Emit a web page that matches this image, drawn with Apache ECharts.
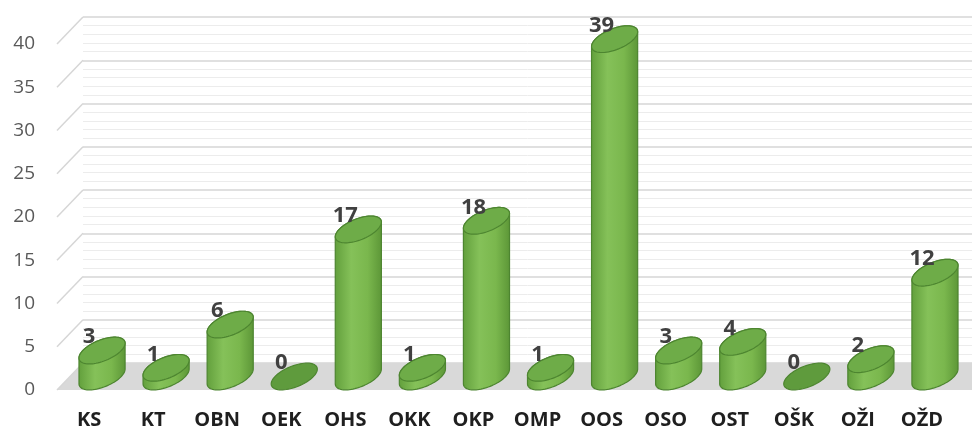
<!DOCTYPE html>
<html><head><meta charset="utf-8">
<script src="https://cdn.jsdelivr.net/npm/echarts@6/dist/echarts.min.js"></script>
<style>html,body{margin:0;padding:0;background:#fff}#c{width:972px;height:430px}</style>
</head><body><div id="c"></div>
<script>
const categories = ['KS','KT','OBN','OEK','OHS','OKK','OKP','OMP','OOS','OSO','OST','OŠK','OŽI','OŽD'];
const values = [3,1,6,0,17,1,18,1,39,3,4,0,2,12];
const yTicks = [0,5,10,15,20,25,30,35,40];

const DX = 26, DY = -27;           // depth offset of back wall
const A = 24.5, B = 10.5, TH = -22 * Math.PI / 180;

function ellipsePts(cx, cy, t1, t2, n) {
  const pts = [];
  const c = Math.cos(TH), s = Math.sin(TH);
  for (let i = 0; i <= n; i++) {
    const t = t1 + (t2 - t1) * i / n;
    const x = A * Math.cos(t), y = B * Math.sin(t);
    pts.push([cx + x * c - y * s, cy + x * s + y * c]);
  }
  return pts;
}
const T0 = Math.atan2(-B * Math.sin(TH), A * Math.cos(TH));

const chart = echarts.init(document.getElementById('c'));
const bodyGrad = new echarts.graphic.LinearGradient(0, 0, 1, 0, [
  {offset: 0, color: '#629f3c'},
  {offset: 0.35, color: '#85c159'},
  {offset: 0.7, color: '#7ab74d'},
  {offset: 1, color: '#5c9637'}
]);

const option = {
  animation: false,
  backgroundColor: '#fff',
  grid: [
    {left: 57, right: 18, top: 44, bottom: 40},
    {left: 57 + DX, right: -10, top: 44 + DY, bottom: 40 - DY}
  ],
  xAxis: [
    {type: 'category', gridIndex: 0, data: categories,
     axisLine: {show: false}, axisTick: {show: false}, splitLine: {show: false},
     axisLabel: {margin: 20, fontFamily: 'Open Sans', fontWeight: 'bold', fontSize: 20, color: '#1f1f1f'}},
    {type: 'category', gridIndex: 1, data: categories, show: false}
  ],
  yAxis: [
    {type: 'value', gridIndex: 0, min: 0, max: 40, interval: 5,
     axisLine: {show: false}, axisTick: {show: false}, splitLine: {show: false},
     axisLabel: {margin: 22, fontFamily: 'Open Sans', fontSize: 19, color: '#595959'}},
    {type: 'value', gridIndex: 1, min: 0, max: 40, interval: 5,
     axisLine: {show: false}, axisTick: {show: false}, axisLabel: {show: false},
     minorTick: {show: false, splitNumber: 5},
     splitLine: {show: true, lineStyle: {color: '#d6d6d6', width: 1.5}},
     minorSplitLine: {show: true, lineStyle: {color: '#ececec', width: 1}}}
  ],
  series: [
    {
      type: 'custom', xAxisIndex: 0, yAxisIndex: 0, z: 2, silent: true,
      data: [[0, 0]],
      renderItem: function (params, api) {
        const p = api.coord([0, 0]);
        const half = api.size([1, 0])[0] / 2;
        const x0 = p[0] - half, y0 = p[1];
        return {type: 'polygon', shape: {points: [[x0, y0], [x0 + DX, y0 + DY], [x0 + 2000, y0 + DY], [x0 + 2000, y0]]},
                style: {fill: '#d9d9d9'}};
      }
    },
    {
      type: 'custom', xAxisIndex: 0, yAxisIndex: 0, z: 3, silent: true,
      data: yTicks.map(v => [0, v]),
      renderItem: function (params, api) {
        const p = api.coord([0, api.value(1)]);
        const half = api.size([1, 0])[0] / 2;
        const x0 = p[0] - half;
        return {type: 'line', shape: {x1: x0, y1: p[1], x2: x0 + DX, y2: p[1] + DY},
                style: {stroke: '#d6d6d6', lineWidth: 1.5}};
      }
    },
    {
      type: 'custom', xAxisIndex: 0, yAxisIndex: 0, z: 5, silent: true,
      data: values.map((v, i) => [i, v]),
      renderItem: function (params, api) {
        const i = api.value(0), v = api.value(1);
        const base = api.coord([i, 0]);
        const top = api.coord([i, v]);
        const cx = base[0] + DX / 2;
        const yb = base[1] + DY / 2;
        const yt = top[1] + DY / 2;
        const children = [];
        if (v > 0) {
          const lower = ellipsePts(cx, yb, T0, T0 + Math.PI, 40);
          const upper = ellipsePts(cx, yt, T0 + Math.PI, T0 + 2 * Math.PI, 40);
          children.push({type: 'polygon', shape: {points: lower.concat(upper)},
                         style: {fill: bodyGrad, stroke: '#4d8530', lineWidth: 1.2}});
        }
        children.push({type: 'polygon', shape: {points: ellipsePts(cx, yt, 0, 2 * Math.PI, 72)},
                       style: {fill: v > 0 ? '#6eac48' : '#5f9b3d', stroke: '#4d8530', lineWidth: 1.2}});
        children.push({type: 'text', z2: 10,
                       style: {text: String(v), x: cx - DX / 2, y: yt + DY / 2, align: 'center', verticalAlign: 'middle',
                               font: 'bold 22px "Open Sans"', fill: '#404040'}});
        return {type: 'group', children: children};
      }
    }
  ]
};
chart.setOption(option);
</script></body></html>
